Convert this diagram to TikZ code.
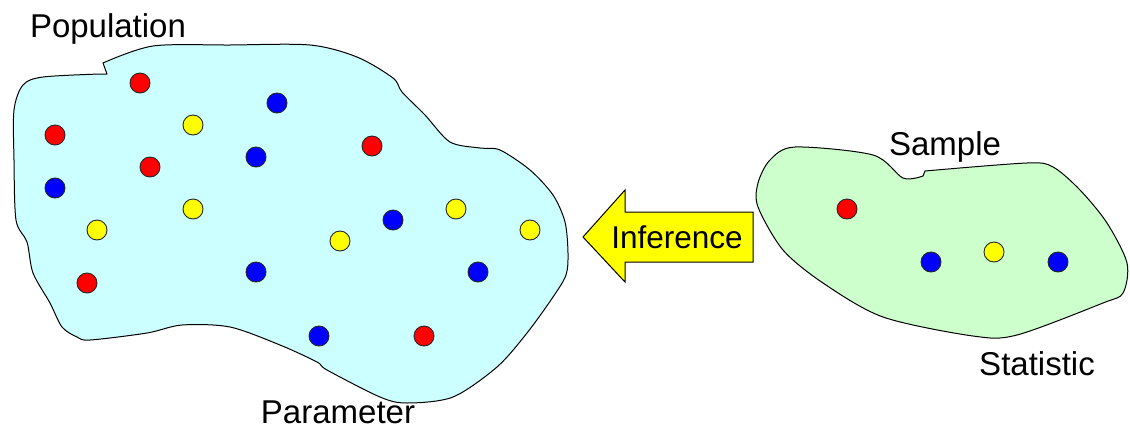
\documentclass[tikz,border=0pt]{standalone}
\usepackage{fontspec}
\setmainfont{Liberation Sans}
\definecolor{popfill}{HTML}{CCFFFF}
\definecolor{smpfill}{HTML}{CCFFCC}
\definecolor{dotred}{HTML}{FF0000}
\definecolor{dotyel}{HTML}{FFFF00}
\definecolor{dotblu}{HTML}{0000FF}
\begin{document}
\begin{tikzpicture}[x=1pt,y=-1pt,
  blob/.style={draw=black,line width=1pt,line join=round},
  dot/.style={circle,draw=black!85,line width=0.9pt,minimum size=20pt,inner sep=0pt},
  rdot/.style={dot,fill=dotred},
  ydot/.style={dot,fill=dotyel},
  bdot/.style={dot,fill=dotblu},
  lbl/.style={anchor=base,inner sep=0pt,font=\fontsize{33}{36}\selectfont}]
\useasboundingbox (0,0) rectangle (1130,429);
% population
\filldraw[blob,fill=popfill] (107,74) -- (103,63) -- plot[smooth,tension=0.5] coordinates {
 (103,63) (153,46) (230,45) (310,45) (357,57) (393,78) (402,92) (425,115) (450,142) (480,148) (500,150)
 (530,170) (553,195) (565,222) (568,253) (566,275) (553,297) (527,333) (497,367) (453,397)
 (407,403) (380,397) (327,370) (317,362) (280,345) (230,327) (182,325) (147,333) (90,340)
 (77,337) (62,327) (50,303) (33,273) (27,242) (16,220) (14,160) (14,110) (23,85) (43,77) (100,74)} -- cycle;
% sample
\filldraw[blob,fill=smpfill] (923,176) -- (925,171) -- plot[smooth,tension=0.5] coordinates {
 (925,171) (1027,163) (1053,167) (1080,190) (1107,223)
 (1127,263) (1123,293) (1103,303) (1017,335) (973,336) (883,317) (823,283) (783,250) (758,207) (758,183)
 (770,160) (795,147) (873,155) (903,178) (923,176)} -- cycle;
% arrow
\filldraw[draw=black,line width=1pt,fill=dotyel,line join=miter] (583,237) -- (625,190) -- (625,212) -- (753,212)
  -- (753,262) -- (625,262) -- (625,282) -- cycle;
\node[anchor=base,inner sep=0pt,font=\fontsize{31.5}{34}\selectfont] (inf) at (677,248) {Inference};
% labels
\node[lbl] (pop) at (108,37) {Population};
\node[lbl] (par) at (338,423) {Parameter};
\node[lbl] (sam) at (945,155) {Sample};
\node[lbl] (sta) at (1037,375) {Statistic};
% population dots
\node[rdot] (p1) at (140,83) {};
\node[rdot] (p2) at (55,135) {};
\node[rdot] (p3) at (150,167) {};
\node[rdot] (p4) at (372,146) {};
\node[rdot] (p5) at (87,283) {};
\node[rdot] (p6) at (424,336) {};
\node[ydot] (p7) at (193,125) {};
\node[ydot] (p8) at (193,209) {};
\node[ydot] (p9) at (97,230) {};
\node[ydot] (p10) at (340,241) {};
\node[ydot] (p11) at (456,209) {};
\node[ydot] (p12) at (530,230) {};
\node[bdot] (p13) at (277,103) {};
\node[bdot] (p14) at (256,157) {};
\node[bdot] (p15) at (55,188) {};
\node[bdot] (p16) at (393,220) {};
\node[bdot] (p17) at (256,272) {};
\node[bdot] (p18) at (478,272) {};
\node[bdot] (p19) at (319,336) {};
% sample dots
\node[rdot] (s1) at (847,209) {};
\node[bdot] (s2) at (931,262) {};
\node[ydot] (s3) at (994,252) {};
\node[bdot] (s4) at (1058,262) {};
\end{tikzpicture}
\end{document}
